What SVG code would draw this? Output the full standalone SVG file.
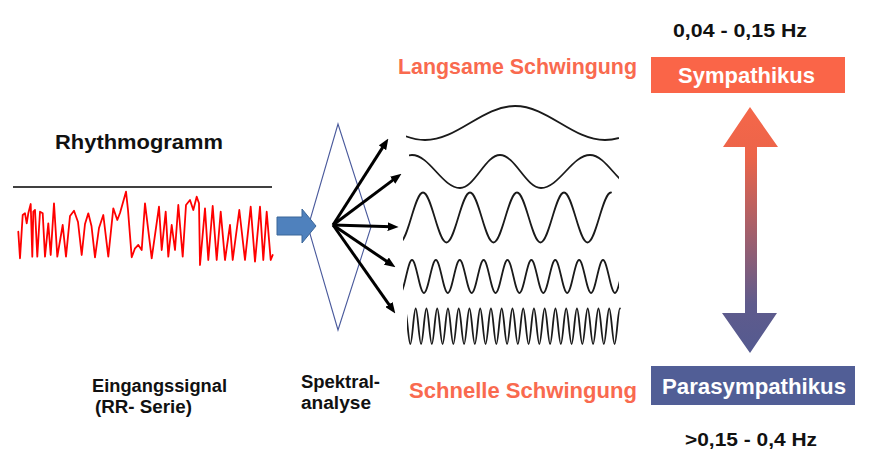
<svg xmlns="http://www.w3.org/2000/svg" width="875" height="467" viewBox="0 0 875 467">
<style>
.t{font-family:"Liberation Sans",Arial,sans-serif;font-weight:bold}
.blk{fill:#111}
.org{fill:#f96a4f}
.wht{fill:#ffffff}
.wave{fill:none;stroke:#1a1a1a;stroke-width:1.8;stroke-linejoin:round;stroke-linecap:round}
.conn{fill:none;stroke:#000;stroke-width:3}
</style>
<defs>
<marker id="ah" viewBox="0 0 10 8" refX="4" refY="4" markerWidth="11" markerHeight="9" markerUnits="userSpaceOnUse" orient="auto">
<path d="M0,0 L10,4 L0,8 z" fill="#000"/>
</marker>
<linearGradient id="g" gradientUnits="userSpaceOnUse" x1="0" y1="107" x2="0" y2="353">
<stop offset="0" stop-color="#f5674a"/>
<stop offset="0.2" stop-color="#ec6449"/>
<stop offset="0.8" stop-color="#5f5b8c"/>
<stop offset="1" stop-color="#545a90"/>
</linearGradient>
<clipPath id="c1"><rect x="406" y="95" width="213" height="55"/></clipPath>
<clipPath id="c2"><rect x="409" y="145" width="210" height="50"/></clipPath>
<clipPath id="c3"><rect x="403" y="185" width="212" height="65"/></clipPath>
<clipPath id="c4"><rect x="403" y="252" width="216" height="48"/></clipPath>
<clipPath id="c5"><rect x="407" y="300" width="215" height="50"/></clipPath>
</defs>

<g id="rhythmogramm">
<text class="t blk" x="55" y="149" font-size="19.5" textLength="168" lengthAdjust="spacingAndGlyphs">Rhythmogramm</text>
<line x1="13" y1="187" x2="272" y2="187" stroke="#000" stroke-width="1.4"/>
<polyline fill="none" stroke="#ff0000" stroke-width="1.8" stroke-linejoin="round" stroke-linecap="round" points="18.3,231.7 20,258.3 22.7,215 25,213.3 26.7,223.3 28.3,213.3 30.7,204 32.3,256.7 33.3,211.7 35,210 37.3,256.7 40,211.7 42.7,213.3 45,256.7 48.3,223.3 50.7,255 54,203.3 57.3,256.7 62.7,225 66,256.7 70,216 74,210.7 78,222 81.7,255 85,224 88.3,213.3 91.5,226 95,257.3 99,228 103.3,215 108.3,256.7 113.3,208.3 117.3,220 120,213 126,191.7 128,210 131.7,257.3 135,248.3 138.3,245 141.7,250 145,203.3 151.7,258.3 159,206.7 161.7,250 165.7,211.7 168.3,256.7 171.7,225 175,250 178.3,205 182.7,256.7 186,205 190,200 193.3,210 196.7,196.7 199,203.3 200,265 205,208.3 208.3,260 212.7,206 216.7,260 220.7,211.7 225,260 230,225 232.7,260 239.3,210 245,260 250.7,206.7 255,261.7 260,206.7 263.3,260 266.7,211.7 270.7,260 272.7,255"/>
</g>

<g id="eingangssignal">
<text class="t blk" x="92" y="392" font-size="18" textLength="135" lengthAdjust="spacingAndGlyphs">Eingangssignal</text>
<text class="t blk" x="95" y="413" font-size="18" textLength="97" lengthAdjust="spacingAndGlyphs">(RR- Serie)</text>
</g>

<g id="spektralanalyse">
<polygon points="338,124 371,227 338,330 308,227" fill="none" stroke="#4a5a9c" stroke-width="1.1"/>
<text class="t blk" x="301" y="388" font-size="18" textLength="79" lengthAdjust="spacingAndGlyphs">Spektral-</text>
<text class="t blk" x="301" y="409" font-size="18" textLength="70" lengthAdjust="spacingAndGlyphs">analyse</text>
</g>

<g id="input-arrow">
<polygon points="277,217 302,217 302,209 316,226 302,243 302,235 277,235" fill="#4f81bd" stroke="#3b6699" stroke-width="1"/>
</g>

<g id="waves">
<path class="wave" clip-path="url(#c1)" d="M335,106 C367.8,106 392.2,140 425,140 S482.2,106 515,106 S572.2,140 605,140 S662.2,106 695,106"/>
<path class="wave" clip-path="url(#c2)" d="M364,188 C381.5,188 394.5,155 412,155 C429.5,155 442.5,188 460,188 C474.6,188 485.4,155 500,155 C514.9,155 526.1,188 541,188 C558.8,188 572.2,155 590,155 C606.8,155 619.2,188 636,188"/>
<path class="wave" clip-path="url(#c3)" d="M399.5,242.5 C408.06,242.5 414.44,192.5 423,192.5 S437.94,242.5 446.5,242.5 S461.44,192.5 470,192.5 S484.94,242.5 493.5,242.5 S508.44,192.5 517,192.5 S531.94,242.5 540.5,242.5 S555.44,192.5 564,192.5 S578.94,242.5 587.5,242.5 S602.44,192.5 611,192.5"/>
<path class="wave" clip-path="url(#c4)" d="M400.06,293 C404.41,293 407.65,260 412,260 S419.59,293 423.94,293 S431.53,260 435.88,260 S443.46,293 447.81,293 S455.4,260 459.75,260 S467.34,293 471.69,293 S479.28,260 483.63,260 S491.21,293 495.56,293 S503.15,260 507.5,260 S515.09,293 519.44,293 S527.03,260 531.38,260 S538.96,293 543.31,293 S550.9,260 555.25,260 S562.84,293 567.19,293 S574.78,260 579.13,260 S586.71,293 591.06,293 S598.65,260 603,260 S610.59,293 614.94,293 S622.53,260 626.88,260"/>
<path class="wave" clip-path="url(#c5)" d="M404.95,308.5 C406.91,308.5 408.37,344 410.33,344 S413.74,308.5 415.7,308.5 S419.12,344 421.08,344 S424.49,308.5 426.45,308.5 S429.87,344 431.83,344 S435.24,308.5 437.2,308.5 S440.62,344 442.58,344 S445.99,308.5 447.95,308.5 S451.37,344 453.33,344 S456.74,308.5 458.7,308.5 S462.12,344 464.08,344 S467.49,308.5 469.45,308.5 S472.87,344 474.83,344 S478.24,308.5 480.2,308.5 S483.62,344 485.58,344 S488.99,308.5 490.95,308.5 S494.37,344 496.33,344 S499.74,308.5 501.7,308.5 S505.12,344 507.08,344 S510.49,308.5 512.45,308.5 S515.87,344 517.83,344 S521.24,308.5 523.2,308.5 S526.62,344 528.58,344 S531.99,308.5 533.95,308.5 S537.37,344 539.33,344 S542.74,308.5 544.7,308.5 S548.12,344 550.08,344 S553.49,308.5 555.45,308.5 S558.87,344 560.83,344 S564.24,308.5 566.2,308.5 S569.62,344 571.58,344 S574.99,308.5 576.95,308.5 S580.37,344 582.33,344 S585.74,308.5 587.7,308.5 S591.12,344 593.08,344 S596.49,308.5 598.45,308.5 S601.87,344 603.83,344 S607.24,308.5 609.2,308.5 S612.62,344 614.58,344 S617.99,308.5 619.95,308.5"/>
</g>

<g id="connectors">
<line class="conn" x1="333" y1="225" x2="384.8" y2="144.1" marker-end="url(#ah)"/>
<line class="conn" x1="333" y1="225" x2="396.2" y2="177.6" marker-end="url(#ah)"/>
<line class="conn" x1="333" y1="225" x2="392" y2="226.8" marker-end="url(#ah)"/>
<line class="conn" x1="333" y1="225" x2="390" y2="263.6" marker-end="url(#ah)"/>
<line class="conn" x1="333" y1="225" x2="391.5" y2="308.1" marker-end="url(#ah)"/>
</g>

<g id="langsame">
<text class="t org" x="398" y="74" font-size="22" textLength="239" lengthAdjust="spacingAndGlyphs">Langsame Schwingung</text>
</g>
<g id="schnelle">
<text class="t org" x="409" y="398" font-size="22" textLength="228" lengthAdjust="spacingAndGlyphs">Schnelle Schwingung</text>
</g>

<g id="sympathikus">
<text class="t blk" x="673" y="37" font-size="18" textLength="134" lengthAdjust="spacingAndGlyphs">0,04 - 0,15 Hz</text>
<rect x="651" y="57" width="194" height="36" fill="#fa6548"/>
<text class="t wht" x="678" y="83" font-size="22" textLength="137" lengthAdjust="spacingAndGlyphs">Sympathikus</text>
</g>

<g id="balance-arrow">
<polygon points="750,107 778,147 757,147 757,313 777,313 750,353 722,313 745,313 745,147 723,147" fill="url(#g)"/>
</g>

<g id="parasympathikus">
<rect x="651" y="366" width="204" height="39" fill="#515e96"/>
<text class="t wht" x="662" y="394" font-size="22" textLength="184" lengthAdjust="spacingAndGlyphs">Parasympathikus</text>
<text class="t blk" x="685" y="446" font-size="18" textLength="132" lengthAdjust="spacingAndGlyphs">&gt;0,15 - 0,4 Hz</text>
</g>
</svg>
